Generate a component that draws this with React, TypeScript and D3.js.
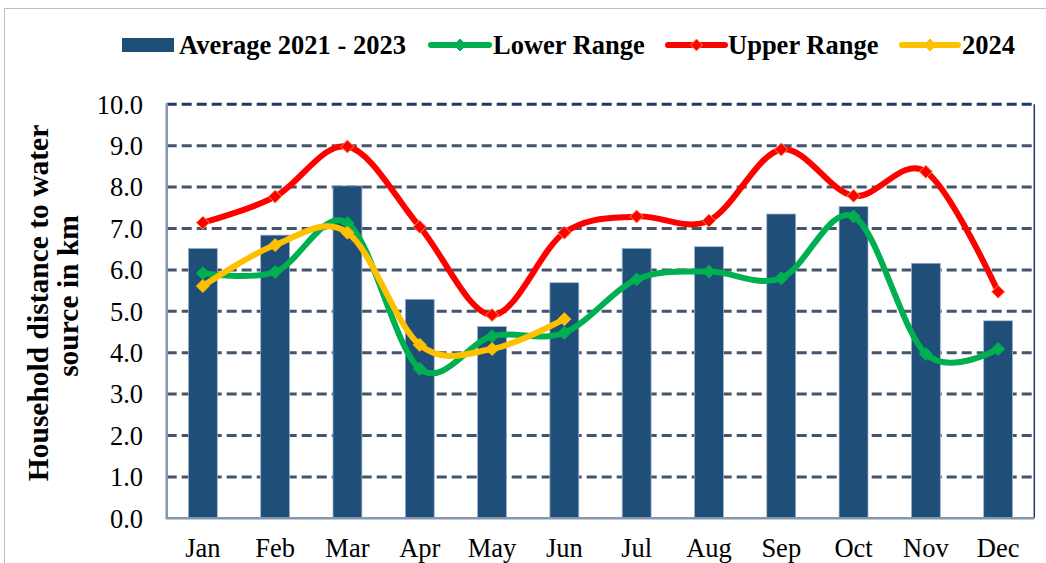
import React from "react";
import * as d3 from "d3";

const months = ["Jan", "Feb", "Mar", "Apr", "May", "Jun", "Jul", "Aug", "Sep", "Oct", "Nov", "Dec"];
const average = [6.52, 6.84, 8.03, 5.29, 4.63, 5.69, 6.52, 6.56, 7.35, 7.53, 6.16, 4.77];
const lowerRange = [5.92, 5.95, 7.13, 3.61, 4.4, 4.48, 5.77, 5.96, 5.8, 7.29, 3.97, 4.09];
const upperRange = [7.14, 7.77, 8.98, 7.04, 4.91, 6.9, 7.29, 7.19, 8.91, 7.79, 8.37, 5.47];
const y2024 = [5.61, 6.6, 6.9, 4.19, 4.09, 4.81];
const yTicks = [0, 1, 2, 3, 4, 5, 6, 7, 8, 9, 10];

const W = 1046;
const H = 563;
const plot = { left: 166.7, right: 1034.3, top: 104.3, bottom: 518.3 };
const FONT = "'Liberation Serif', 'Times New Roman', serif";

const lineSeries = [
  { name: "Lower Range", values: lowerRange, color: "#00b050", mstroke: "#00b050" },
  { name: "Upper Range", values: upperRange, color: "#ff0000", mstroke: "#f79646" },
  { name: "2024", values: y2024, color: "#ffc000", mstroke: "#ffc000" },
];

function Diamond({ cx, cy, r, fill, stroke }: { cx: number; cy: number; r: number; fill: string; stroke: string }) {
  const d = `M${cx},${cy - r}L${cx + r},${cy}L${cx},${cy + r}L${cx - r},${cy}Z`;
  return <path d={d} fill={fill} stroke={stroke} strokeWidth={1} />;
}

export default function App() {
  const x = d3
    .scaleBand<string>()
    .domain(months)
    .range([plot.left, plot.right])
    .paddingInner(0.6)
    .paddingOuter(0.3);
  const y = d3.scaleLinear().domain([0, 10]).range([plot.bottom, plot.top]);
  const cx = (m: string) => (x(m) as number) + x.bandwidth() / 2;
  const line = d3
    .line<number>()
    .x((_, i) => cx(months[i]))
    .y((v) => y(v))
    .curve(d3.curveCardinal.tension(0));

  const legendItems = [
    { kind: "bar", label: "Average 2021 - 2023", x0: 122, x1: 174, tx: 179, color: "#1f4e79", mstroke: "" },
    { kind: "line", label: "Lower Range", x0: 431, x1: 489, tx: 493, color: "#00b050", mstroke: "#00b050" },
    { kind: "line", label: "Upper Range", x0: 668, x1: 725, tx: 728, color: "#ff0000", mstroke: "#f79646" },
    { kind: "line", label: "2024", x0: 902, x1: 958, tx: 962, color: "#ffc000", mstroke: "#ffc000" },
  ];
  const ly = 45;

  return (
    <svg width={W} height={H} style={{ position: "absolute", left: 0, top: 0, background: "#fff" }}>
      <rect x={0} y={0} width={W} height={H} fill="#ffffff" />
      <rect x={4.5} y={8.5} width={1200} height={700} fill="none" stroke="#bfbfbf" strokeWidth={1} />

      {/* gridlines */}
      {yTicks
        .filter((t) => t > 0)
        .map((t) => (
          <line
            key={t}
            x1={plot.left}
            x2={plot.right}
            y1={y(t)}
            y2={y(t)}
            stroke={t === 10 ? "#1f3864" : "#44546a"}
            strokeWidth={3}
            strokeDasharray="10,5"
          />
        ))}
      <line x1={plot.right} x2={plot.right} y1={plot.top} y2={plot.bottom} stroke="#1f3864" strokeWidth={1.5} />

      {/* bars */}
      {months.map((m, i) => (
        <rect
          key={m}
          x={x(m)}
          y={y(average[i])}
          width={x.bandwidth()}
          height={plot.bottom - y(average[i])}
          fill="#1f4e79"
          stroke="#9fb4cc"
          strokeWidth={0.75}
        />
      ))}

      {/* axes */}
      <line x1={plot.left} x2={plot.left} y1={plot.top - 1} y2={plot.bottom + 1} stroke="#8497b0" strokeWidth={2.5} />
      <line x1={plot.left} x2={plot.right} y1={plot.bottom} y2={plot.bottom} stroke="#8497b0" strokeWidth={2.5} />

      {/* y tick labels */}
      {yTicks.map((t) => (
        <text key={t} x={143} y={y(t)} dy="0.35em" textAnchor="end" fontFamily={FONT} fontSize={26.5} fill="#000">
          {t.toFixed(1)}
        </text>
      ))}

      {/* x labels */}
      {months.map((m) => (
        <text key={m} x={cx(m)} y={557} textAnchor="middle" fontFamily={FONT} fontSize={26.5} fill="#000">
          {m}
        </text>
      ))}

      {/* y title */}
      <g transform="translate(38,303) rotate(-90)">
        <text x={0} y={0} dy="0.35em" textAnchor="middle" fontFamily={FONT} fontWeight="bold" fontSize={29.5} fill="#000">
          Household distance to water
        </text>
      </g>
      <g transform="translate(68,296) rotate(-90)">
        <text x={0} y={0} dy="0.35em" textAnchor="middle" fontFamily={FONT} fontWeight="bold" fontSize={29.5} fill="#000">
          source in km
        </text>
      </g>

      {/* lines */}
      {lineSeries.map((s) => (
        <g key={s.name}>
          <path d={line(s.values) || ""} fill="none" stroke={s.color} strokeWidth={6} strokeLinejoin="round" strokeLinecap="round" />
          {s.values.map((v, i) => (
            <Diamond key={i} cx={cx(months[i])} cy={y(v)} r={6.5} fill={s.color} stroke={s.mstroke} />
          ))}
        </g>
      ))}

      {/* legend */}
      {legendItems.map((it) => (
        <g key={it.label}>
          {it.kind === "bar" ? (
            <rect x={it.x0} y={ly - 7} width={it.x1 - it.x0} height={14} fill={it.color} />
          ) : (
            <g>
              <line x1={it.x0} x2={it.x1} y1={ly} y2={ly} stroke={it.color} strokeWidth={6} strokeLinecap="round" />
              <Diamond cx={(it.x0 + it.x1) / 2} cy={ly} r={6} fill={it.color} stroke={it.mstroke} />
            </g>
          )}
          <text x={it.tx} y={ly} dy="0.35em" fontFamily={FONT} fontWeight="bold" fontSize={26.5} fill="#000">
            {it.label}
          </text>
        </g>
      ))}
    </svg>
  );
}
